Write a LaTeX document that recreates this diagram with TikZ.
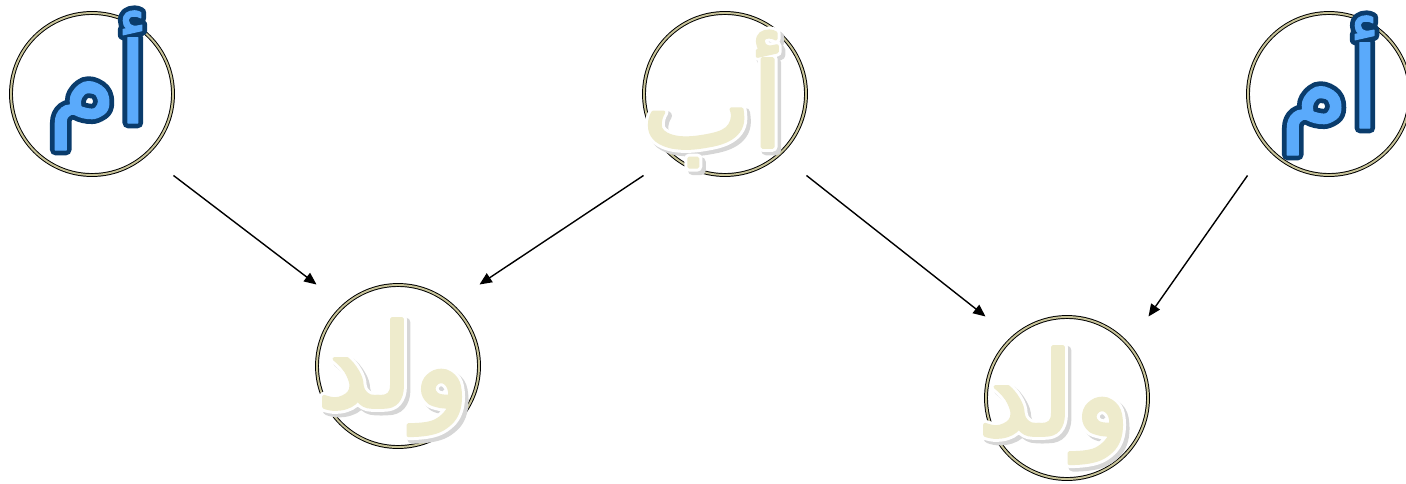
\documentclass[tikz,border=0pt]{standalone}
\usepackage{fontspec}
\usetikzlibrary{arrows.meta}
\TeXXeTstate=1
\newfontfamily\arabicfont[Script=Arabic]{DejaVu Sans}
\definecolor{momfill}{HTML}{5AAAFB}
\definecolor{momline}{HTML}{0A3C6C}
\definecolor{cream}{HTML}{EEEBCC}
\definecolor{ringin}{HTML}{C8C49A}

% stroked glyphs (fill and stroke, round joins)
\newcommand{\stroked}[2]{\special{pdf:literal direct 2 Tr #1 w 1 j}#2\special{pdf:literal direct 0 Tr}}
% cream word with a soft shadow: position, name, word
\newcommand{\creamword}[3]{%
  \node[shadetxt, xshift=2pt, yshift=-2pt] (#2shd) at (#1) {\stroked{5.4}{\beginR #3\endR}};
  \node[softtxt, text=white] (#2rim) at (#1) {\stroked{5.4}{\beginR #3\endR}};
  \node[softtxt] (#2) at (#1) {\stroked{2}{\beginR #3\endR}};
}

\begin{document}
\begin{tikzpicture}[
  >=Stealth,
  ring/.style={circle, draw=black, line width=0.55pt, double=ringin, double distance=1.1pt, minimum size=3.24cm, inner sep=0pt},
  momtxt/.style={anchor=base, inner sep=0pt, text=momfill, font=\fontsize{64}{64}\selectfont\arabicfont},
  softtxt/.style={anchor=base, inner sep=0pt, text=cream, font=\fontsize{66}{66}\selectfont\arabicfont},
  shadetxt/.style={anchor=base, inner sep=0pt, text=black!16, font=\fontsize{66}{66}\selectfont\arabicfont},
  arr/.style={-{Triangle[length=7pt,width=6pt]}, line width=0.8pt, color=black},
]
\useasboundingbox (0,0) rectangle (28.12,9.66);

\node[ring] (mom1) at (1.84, 7.78) {};
\node[ring] (dad) at (14.5, 7.78) {};
\node[ring] (mom2) at (26.58, 7.78) {};
\node[ring] (kid1) at (7.96, 2.34) {};
\node[ring] (kid2) at (21.34, 1.70) {};

\draw[arr] (mom1.south -| mom1.east) -- (kid1.north -| kid1.west);
\draw[arr] (dad.south -| dad.west) -- (kid1.north -| kid1.east);
\draw[arr] (dad.south -| dad.east) -- (kid2.north -| kid2.west);
\draw[arr] (mom2.south -| mom2.west) -- (kid2.north -| kid2.east);

\node[momtxt, text=momline] (mom1rim) at (1.96, 7.2) {\stroked{6}{\beginR أم\endR}};
\node[momtxt] (mom1txt) at (1.96, 7.2) {\stroked{0.6}{\beginR أم\endR}};
\node[momtxt, text=momline] (mom2rim) at (26.6, 7.1) {\stroked{6}{\beginR أم\endR}};
\node[momtxt] (mom2txt) at (26.6, 7.1) {\stroked{0.6}{\beginR أم\endR}};

\creamword{14.26, 6.72}{dadtxt}{أب}
\creamword{7.86, 1.52}{kid1txt}{ولد}
\creamword{21.08, 0.96}{kid2txt}{ولد}

\end{tikzpicture}
\end{document}
